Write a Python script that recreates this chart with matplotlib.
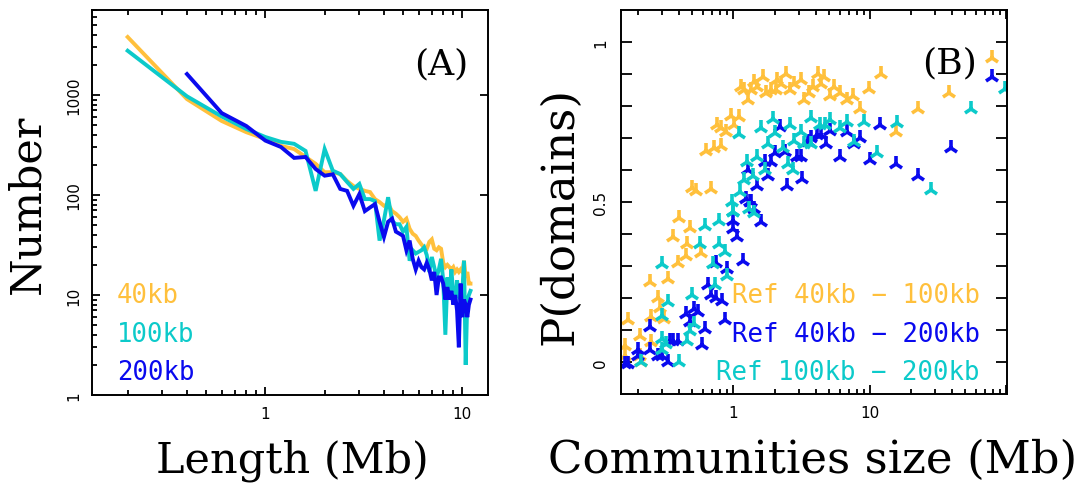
import numpy as np
import matplotlib
matplotlib.use("Agg")
import matplotlib.pyplot as plt
from matplotlib.ticker import FixedLocator, NullFormatter, LogLocator

# ---------------- data: panel A (domain length distribution) ----------------
len_40 = [0.2, 0.4, 0.6, 0.8, 1.0, 1.2, 1.4, 1.6, 1.8, 2.0, 2.2, 2.4, 2.6, 2.8, 3.0,
          3.2, 3.4, 3.6, 3.8, 4.0, 4.2, 4.4, 4.6, 4.8, 5.0, 5.2, 5.4, 5.6, 5.8, 6.0,
          6.2, 6.4, 6.6, 6.8, 7.0, 7.2, 7.4, 7.6, 7.8, 8.0, 8.2, 8.4, 8.6, 8.8, 9.0,
          9.2, 9.4, 9.6, 9.8, 10.0, 10.2, 10.4, 10.6, 10.8, 11.0]
num_40 = [3800, 910, 550, 425, 363, 310, 288, 240, 205, 169, 169, 162, 138, 123, 115,
          110, 107, 91, 85, 78, 81, 69, 65, 60, 54, 58, 46, 41, 39, 35,
          32, 30, 29, 34, 36, 29, 28, 30, 29, 21, 19, 20, 19, 18, 19,
          17, 18, 17, 18, 17, 22, 15, 17, 13, 13]

len_100 = len_40
num_100 = [2770, 970, 610, 457, 380, 340, 325, 276, 110, 288, 175, 162, 135, 115, 129,
           91, 91, 87, 35, 56, 95, 55, 51, 51, 43, 48, 22, 28, 26, 27,
           28, 30, 25, 17, 24, 19, 15, 18, 23, 14, 4, 15, 9, 18, 10,
           8, 14, 10, 9, 11, 22, 2, 9, 10, 11]

len_200 = len_40[1:]
num_200 = [1620, 660, 490, 350, 302, 235, 240, 182, 156, 161, 115, 110, 78, 102,
           69, 75, 81, 54, 38, 54, 58, 43, 41, 39, 28, 35, 23, 18, 22,
           19, 18, 21, 18, 14, 17, 10, 15, 15, 13, 9, 12, 9, 11, 8,
           10, 7, 3, 13, 6, 9, 8, 6, 8, 9]

labels_A = ["40kb", "100kb", "200kb"]

# ---------------- data: panel B (P(domains) vs community size) ----------------
size_40_100 = [79, 12.0, 38, 22.4, 15.5, 9.9, 8.5, 7.5, 6.8, 6.0, 5.5, 5.1, 4.6, 4.15,
               4.37, 3.8, 3.6, 3.3, 3.1, 2.8, 2.6, 2.43, 2.23, 2.1, 2.04, 1.88, 1.73,
               1.64, 1.5, 1.42, 1.34, 1.27, 1.2, 1.13, 1.1, 1.01, 0.96, 0.88, 0.81,
               0.76, 0.81, 0.72, 0.63, 0.68, 0.53, 0.50, 0.40, 0.48, 0.36, 0.46, 0.58,
               0.45, 0.39, 0.245, 0.33, 0.28, 0.29, 0.31, 0.25, 0.17, 0.205, 0.25,
               0.16, 0.16, 0.205, 0.21]
p_40_100 = [0.949, 0.90, 0.84, 0.79, 0.72, 0.853, 0.79, 0.83, 0.82, 0.84, 0.86, 0.83,
            0.89, 0.90, 0.87, 0.86, 0.84, 0.82, 0.88, 0.87, 0.85, 0.90, 0.87, 0.88,
            0.85, 0.85, 0.84, 0.89, 0.86, 0.875, 0.85, 0.82, 0.85, 0.86, 0.765, 0.74,
            0.77, 0.72, 0.73, 0.74, 0.676, 0.67, 0.66, 0.54, 0.535, 0.545, 0.45, 0.418,
            0.39, 0.37, 0.34, 0.33, 0.31, 0.25, 0.26, 0.20, 0.17, 0.134, 0.14, 0.13,
            0.082, 0.062, 0.05, 0.019, 0.019, 0.0]

size_40_200 = [79, 39, 22.4, 15.5, 10, 11.9, 8.5, 7.7, 6.8, 6.0, 5.1, 4.8, 4.4, 4.1,
               3.7, 3.5, 3.2, 3.1, 2.9, 2.45, 2.37, 2.2, 2.0, 1.9, 1.8, 1.7, 1.5,
               1.28, 1.34, 1.24, 1.33, 1.41, 1.58, 1.0, 1.0, 1.07, 1.17, 0.74, 0.9,
               0.65, 0.68, 0.74, 0.83, 0.87, 0.51, 0.55, 0.45, 0.48, 0.62, 0.59, 0.39,
               0.36, 0.34, 0.33, 0.28, 0.245, 0.20, 0.2, 0.245, 0.17, 0.16, 0.30]
p_40_200 = [0.89, 0.67, 0.58, 0.62, 0.63, 0.74, 0.70, 0.68, 0.72, 0.64, 0.723, 0.68,
            0.71, 0.71, 0.70, 0.686, 0.572, 0.64, 0.64, 0.55, 0.655, 0.735, 0.654,
            0.625, 0.58, 0.625, 0.55, 0.60, 0.50, 0.51, 0.50, 0.478, 0.437, 0.44,
            0.415, 0.39, 0.317, 0.31, 0.29, 0.24, 0.21, 0.20, 0.19, 0.13, 0.166,
            0.155, 0.15, 0.124, 0.103, 0.052, 0.067, 0.067, 0.067, 0.0, 0.02, 0.036,
            0.036, 0.02, 0.108, -0.005, -0.005, 0.02]

size_100_200 = [98, 55, 15.9, 11.2, 28, 9.1, 7.6, 6.8, 6.0, 5.1, 4.7, 4.3, 3.7, 3.7,
                3.3, 3.15, 2.8, 2.6, 2.5, 2.75, 2.3, 1.95, 2.0, 1.8, 1.6, 1.5, 1.7,
                1.4, 1.26, 1.2, 1.1, 1.12, 0.98, 1.0, 1.3, 1.42, 1.0, 0.78, 0.62,
                0.57, 0.79, 0.87, 0.30, 0.71, 0.9, 0.73, 0.50, 0.33, 0.51, 0.48, 0.30,
                0.32, 0.30, 0.46, 0.40, 0.21, 0.30]
p_100_200 = [0.853, 0.79, 0.746, 0.652, 0.538, 0.749, 0.686, 0.75, 0.732, 0.755, 0.74,
             0.74, 0.763, 0.68, 0.68, 0.72, 0.69, 0.74, 0.62, 0.60, 0.67, 0.76, 0.716,
             0.68, 0.73, 0.64, 0.60, 0.58, 0.626, 0.57, 0.712, 0.53, 0.50, 0.47, 0.478,
             0.467, 0.47, 0.44, 0.426, 0.369, 0.369, 0.343, 0.306, 0.306, 0.27, 0.24,
             0.21, 0.186, 0.118, 0.098, 0.072, 0.056, 0.036, 0.067, 0.0, 0.0, 0.145]

labels_B = ["Ref 40kb \u2212 100kb", "Ref 40kb \u2212 200kb", "Ref 100kb \u2212 200kb"]

# ---------------- style ----------------
c_orange = "#ffc03c"
c_cyan = "#0ccaca"
c_blue = "#0a0aee"

serif = "DejaVu Serif"
mono = "DejaVu Sans Mono"
lab_fs = 31
leg_fs = 18.5
tick_fs = 11

fig = plt.figure(figsize=(10.87, 4.85), dpi=100)
axA = fig.add_axes([92 / 1087, 89 / 485, 396 / 1087, 385 / 485])
axB = fig.add_axes([621 / 1087, 90 / 485, 386 / 1087, 384 / 485])

for ax in (axA, axB):
    for s in ax.spines.values():
        s.set_linewidth(1.4)

# ---------------- panel A ----------------
axA.plot(len_40, num_40, color=c_orange, lw=2.8, solid_joinstyle="miter")
axA.plot(len_100, num_100, color=c_cyan, lw=2.8, solid_joinstyle="miter")
axA.plot(len_200, num_200, color=c_blue, lw=2.8, solid_joinstyle="miter")
axA.set_xscale("log")
axA.set_yscale("log")
axA.set_xlim(0.1318, 13.5)
axA.set_ylim(1, 10 ** 3.85)
axA.xaxis.set_major_locator(FixedLocator([1, 10]))
axA.set_xticklabels(["1", "10"])
axA.xaxis.set_minor_locator(LogLocator(base=10, subs=np.arange(2, 10)))
axA.xaxis.set_minor_formatter(NullFormatter())
axA.yaxis.set_major_locator(FixedLocator([1, 10, 100, 1000]))
axA.set_yticklabels(["1", "10", "100", "1000"], rotation=90, va="center")
axA.yaxis.set_minor_locator(LogLocator(base=10, subs=np.arange(2, 10)))
axA.yaxis.set_minor_formatter(NullFormatter())
axA.tick_params(which="both", direction="in", top=True, right=True, width=1.3,
                labelsize=tick_fs)
axA.tick_params(which="major", length=6, pad=8)
axA.tick_params(which="minor", length=3.6)
axA.tick_params(axis="y", which="minor", right=False)

axA.text(0.9495, 0.836, "(A)", transform=axA.transAxes, ha="right", va="baseline",
         fontsize=26, family=serif)
for lab, col, yy in zip(labels_A, [c_orange, c_cyan, c_blue], [0.2416, 0.140, 0.0416]):
    axA.text(0.063, yy, lab, transform=axA.transAxes, ha="left", va="baseline",
             fontsize=leg_fs, color=col, family=mono)

# ---------------- panel B ----------------
mk = dict(marker="2", linestyle="none", markersize=11, markeredgewidth=2.6)
axB.plot(size_40_100, p_40_100, color=c_orange, **mk)
axB.plot(size_40_200, p_40_200, color=c_blue, **mk)
axB.plot(size_100_200, p_100_200, color=c_cyan, **mk)
axB.set_xscale("log")
axB.set_xlim(0.15, 101)
axB.set_ylim(-0.1, 1.1)
axB.xaxis.set_major_locator(FixedLocator([1, 10, 100]))
axB.set_xticklabels(["1", "10", ""])
axB.xaxis.set_minor_locator(LogLocator(base=10, subs=np.arange(2, 10)))
axB.xaxis.set_minor_formatter(NullFormatter())
yt = [round(0.1 * i, 1) for i in range(11)]
axB.yaxis.set_major_locator(FixedLocator(yt))
axB.set_yticklabels(["0" if v == 0 else ("0.5" if v == 0.5 else ("1" if v == 1 else ""))
                     for v in yt], rotation=90, va="center")
axB.tick_params(which="both", direction="in", top=True, right=True, width=1.3,
                labelsize=tick_fs)
axB.tick_params(axis="x", which="major", length=6.5, pad=8)
axB.tick_params(axis="x", which="minor", length=3.6)
axB.tick_params(axis="y", which="major", length=8, pad=9)

axB.text(0.922, 0.838, "(B)", transform=axB.transAxes, ha="right", va="baseline",
         fontsize=26, family=serif)
for lab, col, yy in zip(labels_B, [c_orange, c_blue, c_cyan], [0.2396, 0.138, 0.039]):
    axB.text(0.930, yy, lab, transform=axB.transAxes, ha="right", va="baseline",
             fontsize=leg_fs, color=col, family=mono)

# ---------------- axis labels ----------------
fig.text(27.5 / 1087, 1 - 204 / 485, "Number", rotation=90, ha="center", va="center",
         fontsize=lab_fs, family=serif)
fig.text(292.5 / 1087, 1 - 473 / 485, "Length (Mb)", ha="center", va="baseline",
         fontsize=lab_fs, family=serif)
fig.text(560 / 1087, 1 - 216 / 485, "P(domains)", rotation=90, ha="center", va="center",
         fontsize=32.5, family=serif)
fig.text(812.5 / 1087, 1 - 473 / 485, "Communities size (Mb)", ha="center",
         va="baseline", fontsize=32.5, family=serif)

fig.savefig("out.png", dpi=100)
